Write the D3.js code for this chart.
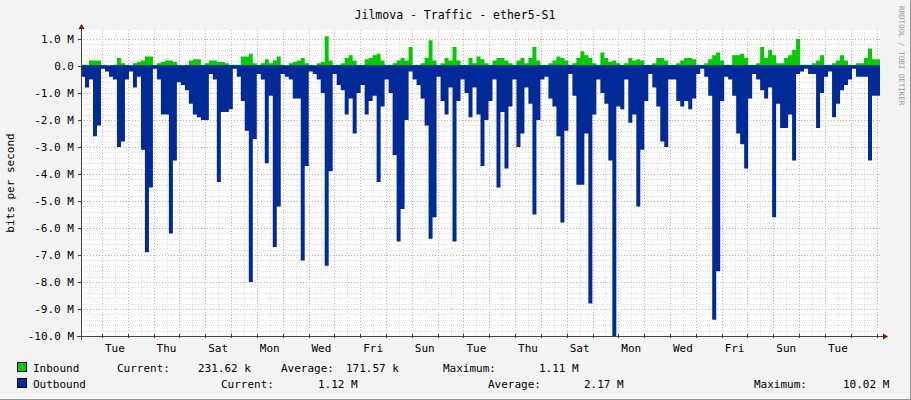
<!DOCTYPE html>
<html><head><meta charset="utf-8">
<script src="https://cdn.jsdelivr.net/npm/d3@7"></script>
<style>body{margin:0;background:#f3f3f3}svg{display:block}text{font-family:"DejaVu Sans Mono",monospace;fill:#000}</style>
</head><body><svg id="c" width="911" height="400"></svg>
<script>
const title = "Jilmova - Traffic - ether5-S1";
const yTicks = [1,0,-1,-2,-3,-4,-5,-6,-7,-8,-9,-10];
const yTickLabels = ["1.0 M","0.0","-1.0 M","-2.0 M","-3.0 M","-4.0 M","-5.0 M","-6.0 M","-7.0 M","-8.0 M","-9.0 M","-10.0 M"];
const dayLabels = ["Sun","Mon","Tue","Wed","Thu","Fri","Sat"];
const outbound = [0.4,0.8,0.5,2.6,2.2,0.1,0.2,0.4,0.5,3.0,2.8,0.5,0.2,0.8,0.4,3.1,6.9,4.5,0.1,0.5,1.8,1.8,6.2,3.5,0.6,0.7,0.9,1.4,1.8,1.9,2.0,2.0,0.3,0.5,4.3,1.7,1.7,1.6,0.1,0.4,1.3,2.4,8.0,2.7,0.3,0.5,3.6,1.1,6.7,5.2,0.3,0.4,0.5,1.2,1.2,7.2,3.7,0.2,0.3,0.5,1.0,7.4,3.9,0.3,0.7,0.9,1.8,1.2,2.5,1.0,0.7,1.8,1.3,1.1,4.3,1.5,0.5,1.0,3.3,6.5,5.3,2.0,0.2,0.5,0.7,1.2,2.2,6.4,5.6,0.4,1.3,1.8,0.8,6.5,1.3,0.5,1.0,1.9,0.8,1.8,3.7,2.0,1.3,0.5,4.5,1.7,3.8,1.5,0.5,3.0,2.5,0.8,1.4,5.5,2.0,0.5,0.4,1.2,1.5,2.6,5.8,2.4,0.3,1.1,4.4,4.4,2.5,8.8,1.8,0.5,1.0,1.4,3.5,10.0,1.5,1.6,0.5,2.1,1.8,5.2,3.1,1.3,0.3,0.8,1.5,2.8,3.0,0.5,0.5,1.3,1.5,1.3,1.6,1.2,0.3,0.1,0.4,1.1,9.4,7.6,1.3,0.4,0.5,1.1,2.5,2.9,3.8,1.2,0.3,0.5,0.9,1.2,0.8,5.6,1.4,2.3,2.3,1.8,3.5,0.3,0.2,0.1,0.3,0.3,2.3,1.0,0.4,0.2,1.9,1.4,0.9,0.7,0.5,0.1,0.4,0.4,0.4,3.5,1.1,1.1];
const inbound = [0.05,0.05,0.2,0.2,0.2,0.05,0,0,0.05,0.3,0.1,0.05,0,0.1,0.15,0.2,0.35,0.35,0.05,0.1,0.15,0.2,0.2,0.15,0.05,0,0.05,0.2,0.25,0.25,0.05,0.1,0.2,0.2,0.15,0.15,0.1,0.05,0.05,0.05,0.35,0.35,0.45,0.1,0.05,0.1,0.25,0.1,0.2,0.35,0.05,0,0.1,0.15,0.2,0.3,0.1,0.05,0,0.1,0.15,1.1,0.2,0.05,0.05,0.1,0.3,0.4,0.2,0.05,0.05,0.25,0.3,0.4,0.45,0.2,0.05,0.05,0.1,0.2,0.3,0.2,0.7,0.05,0.05,0.1,0.3,0.95,0.2,0.05,0.1,0.3,0.2,0.7,0.2,0.05,0.05,0.3,0.1,0.35,0.25,0.1,0.05,0.2,0.3,0.3,0.2,0.1,0.05,0.2,0.3,0.1,0.3,0.7,0.2,0.05,0.05,0.1,0.2,0.35,0.3,0.2,0.05,0.1,0.3,0.55,0.4,0.3,0.1,0.05,0.5,0.3,0.15,0.2,0.1,0.05,0.1,0.3,0.2,0.25,0.2,0.05,0.05,0.1,0.3,0.3,0.2,0.05,0.05,0.1,0.2,0.3,0.3,0.25,0.05,0.05,0.1,0.25,0.4,0.5,0.2,0.05,0.05,0.4,0.4,0.45,0.3,0.05,0.05,0.1,0.7,0.3,0.6,0.4,0.1,0.1,0.3,0.4,0.6,1.0,0.05,0.05,0.05,0.1,0.2,0.4,0.05,0.05,0.1,0.2,0.4,0.2,0.05,0.05,0.1,0.1,0.3,0.65,0.25,0.25];
const legendRows = [
  {name:"Inbound", color:"#00cc00", items:[["Current:",117],["231.62 k",198],["Average:",281],["171.57 k",346],["Maximum:",443],["1.11 M",539]]},
  {name:"Outbound", color:"#002a97", items:[["Current:",221],["1.12 M",318],["Average:",488],["2.17 M",584],["Maximum:",754],["10.02 M",843]]}
];

const svg = d3.select("#c");
const L=81,R=880,T=30,B=336;
const start = new Date(2023,0,2,4,30);
const totalDays = (R-L)/25.82;
const end = new Date(+start + totalDays*864e5);
const x = d3.scaleTime().domain([start,end]).range([L,R]);
const y = d3.scaleLinear().domain([-10,1]).range([B,39]);
const step = (end-start)/outbound.length;
const tOf = i => new Date(+start + i*step);
const FS = "11px";

svg.append("rect").attr("x",L).attr("y",T).attr("width",R-L).attr("height",B-T).attr("fill","#fff");
const g = svg.append("g");
d3.range(-10,1.01,0.2).forEach(v=>{ if(Math.abs(v-Math.round(v))>0.01)
  g.append("line").attr("x1",L).attr("x2",R).attr("y1",Math.round(y(v))+0.5).attr("y2",Math.round(y(v))+0.5).attr("stroke","#e2e2e2").attr("stroke-dasharray","1,1");});
d3.timeHour.every(12).range(start,end).forEach(d=>{ if(d.getHours()===12)
  g.append("line").attr("x1",Math.round(x(d))+0.5).attr("x2",Math.round(x(d))+0.5).attr("y1",T).attr("y2",B).attr("stroke","#e2e2e2").attr("stroke-dasharray","1,1");});
yTicks.forEach(v=>g.append("line").attr("x1",L).attr("x2",R).attr("y1",Math.round(y(v))+0.5).attr("y2",Math.round(y(v))+0.5).attr("stroke","#eaa8a8").attr("stroke-dasharray","1,2"));
d3.timeDay.range(start,end).forEach(d=>g.append("line").attr("x1",Math.round(x(d))+0.5).attr("x2",Math.round(x(d))+0.5).attr("y1",T).attr("y2",B).attr("stroke","#eaa8a8").attr("stroke-dasharray","1,2"));

const idx = d3.range(outbound.length+1);
const areaOut = d3.area().curve(d3.curveStepAfter).x(i=>x(tOf(i))).y0(y(0)).y1(i=>y(-outbound[Math.min(i,outbound.length-1)]));
const areaIn = d3.area().curve(d3.curveStepAfter).x(i=>x(tOf(i))).y0(y(0)).y1(i=>y(inbound[Math.min(i,inbound.length-1)]));
svg.append("path").attr("d",areaIn(idx)).attr("fill","#00cc00");
svg.append("path").attr("d",areaOut(idx)).attr("fill","#002a97");
svg.append("line").attr("x1",L).attr("x2",R).attr("y1",y(0)).attr("y2",y(0)).attr("stroke","#002a97").attr("stroke-width",1.5);

svg.append("line").attr("x1",L-4).attr("x2",R+4).attr("y1",B+0.5).attr("y2",B+0.5).attr("stroke","#444");
svg.append("line").attr("x1",L+0.5).attr("x2",L+0.5).attr("y1",B+4).attr("y2",T-2).attr("stroke","#444");
svg.append("path").attr("d",`M${R+3},${B-2.5}L${R+8},${B+0.5}L${R+3},${B+3.5}Z`).attr("fill","#a00");
svg.append("path").attr("d",`M${L-2.5},${T-1}L${L+0.5},${T-6}L${L+3.5},${T-1}Z`).attr("fill","#a00");
yTicks.forEach((v,i)=>{
  svg.append("line").attr("x1",L-3).attr("x2",L).attr("y1",Math.round(y(v))+0.5).attr("y2",Math.round(y(v))+0.5).attr("stroke","#444");
  svg.append("text").attr("x",74).attr("y",y(v)+4).attr("text-anchor","end").attr("font-size",FS).text(yTickLabels[i]);
});
d3.timeDay.range(start,end).forEach(d=>{
  svg.append("line").attr("x1",Math.round(x(d))+0.5).attr("x2",Math.round(x(d))+0.5).attr("y1",B-2).attr("y2",B+2).attr("stroke","#444");
  const noon = new Date(+d+432e5);
  if((Math.round((d-new Date(2023,0,3))/864e5))%2===0 && x(noon)<R)
    svg.append("text").attr("x",x(noon)).attr("y",352).attr("text-anchor","middle").attr("font-size",FS).text(dayLabels[d.getDay()]);
});

svg.append("text").attr("x",455).attr("y",19).attr("text-anchor","middle").attr("font-size","11.5px").text(title);
svg.append("text").attr("transform","translate(14,183) rotate(-90)").attr("text-anchor","middle").attr("font-size",FS).text("bits per second");
svg.append("text").attr("transform","translate(899,6) rotate(90)").attr("font-size","7.5px").style("fill","#999").text("RRDTOOL / TOBI OETIKER");

legendRows.forEach((r,k)=>{
  const yy = 372 + k*16;
  svg.append("rect").attr("x",17.5).attr("y",yy-9.5).attr("width",9).attr("height",9).attr("fill",r.color).attr("stroke","#000");
  svg.append("text").attr("x",33).attr("y",yy).attr("font-size",FS).text(r.name);
  r.items.forEach(([t,xx])=>svg.append("text").attr("x",xx).attr("y",yy).attr("font-size",FS).text(t));
});
svg.append("line").attr("x1",0).attr("x2",911).attr("y1",399.5).attr("y2",399.5).attr("stroke","#999");
svg.append("line").attr("x1",910.5).attr("x2",910.5).attr("y1",0).attr("y2",400).attr("stroke","#999");
</script></body></html>
